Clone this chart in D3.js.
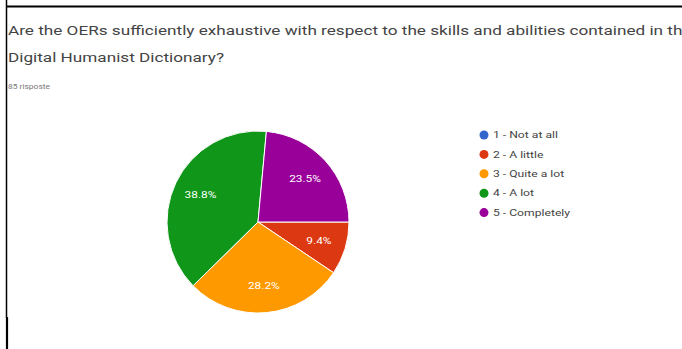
<html lang="en">
  <head>
    <meta charset="UTF-8" />
    <title>OER pie</title>
    <script src="https://d3js.org/d3.v7.min.js"></script>
  </head>
  <style>
    body {
      margin: 0;
      background: #fff;
    }
    svg {
      display: block;
      font-family: Roboto, "Noto Sans", sans-serif;
    }
  </style>
  <body>
    <svg width="682" height="349"></svg>
    <script>
      var categories = [
        "1 - Not at all",
        "2 - A little",
        "3 - Quite a lot",
        "4 - A lot",
        "5 - Completely"
      ];
      var counts = [0, 8, 24, 33, 20];
      var colors = ["#3366cc", "#dc3912", "#ff9900", "#109618", "#990099"];
      var titleLines = [
        "Are the OERs sufficiently exhaustive with respect to the skills and abilities contained in the",
        "Digital Humanist Dictionary?"
      ];
      var subtitle = "85 risposte";

      var svg = d3.select("svg");

      // frame lines
      svg.append("line")
        .attr("x1", 6).attr("x2", 682).attr("y1", 6.5).attr("y2", 6.5)
        .attr("stroke", "#000").attr("stroke-width", 2);
      svg.append("line")
        .attr("x1", 6.5).attr("x2", 6.5).attr("y1", 0).attr("y2", 318)
        .attr("stroke", "#000").attr("stroke-width", 1.5);
      svg.append("line")
        .attr("x1", 7).attr("x2", 7).attr("y1", 317).attr("y2", 349)
        .attr("stroke", "#000").attr("stroke-width", 2.2);

      // title is rendered wide in the screenshot, so stretch it horizontally
      svg.append("g")
        .attr("transform", "translate(8,0) scale(1.32,1)")
        .selectAll("text")
        .data(titleLines)
        .enter()
        .append("text")
        .attr("x", 0)
        .attr("y", function (d, i) { return 35 + i * 27; })
        .attr("fill", "#444")
        .style("font-size", "13px")
        .text(function (d) { return d; });

      svg.append("text")
        .attr("x", 8).attr("y", 89)
        .attr("fill", "#777")
        .style("font-size", "8px")
        .attr("textLength", 42)
        .attr("lengthAdjust", "spacingAndGlyphs")
        .text(subtitle);

      var data = categories.map(function (c, i) {
        return { name: c, value: counts[i], color: colors[i] };
      });
      var total = d3.sum(counts);

      var pie = d3.pie()
        .sort(null)
        .value(function (d) { return d.value; })
        .startAngle(Math.PI / 2)
        .endAngle(Math.PI / 2 + 2 * Math.PI);

      var radius = 91;
      var arc = d3.arc().innerRadius(0).outerRadius(radius);
      var labelArc = d3.arc().innerRadius(radius * 0.7).outerRadius(radius * 0.7);

      var pieG = svg.append("g").attr("transform", "translate(258,222)");
      var slices = pie(data).filter(function (d) { return d.data.value > 0; });

      pieG.selectAll("path")
        .data(slices)
        .enter()
        .append("path")
        .attr("d", arc)
        .attr("fill", function (d) { return d.data.color; })
        .attr("stroke", "#fff")
        .attr("stroke-width", 1);

      pieG.selectAll("g.lbl")
        .data(slices)
        .enter()
        .append("g")
        .attr("class", "lbl")
        .attr("transform", function (d) { return "translate(" + labelArc.centroid(d) + ") scale(1.25,1)"; })
        .append("text")
        .attr("text-anchor", "middle")
        .attr("dy", "0.35em")
        .attr("fill", "#fff")
        .style("font-size", "9.5px")
        .text(function (d) { return d3.format(".1f")(d.data.value / total * 100) + "%"; });

      var legend = svg.append("g").attr("transform", "translate(484,135)");
      var item = legend.selectAll("g")
        .data(data)
        .enter()
        .append("g")
        .attr("transform", function (d, i) { return "translate(0," + i * 19.4 + ")"; });
      item.append("circle")
        .attr("r", 4.5)
        .attr("fill", function (d) { return d.color; });
      item.append("text")
        .attr("transform", "translate(9,0) scale(1.35,1)")
        .attr("dy", "0.35em")
        .attr("fill", "#444")
        .style("font-size", "9px")
        .text(function (d) { return d.name; });
    </script>
  </body>
</html>
